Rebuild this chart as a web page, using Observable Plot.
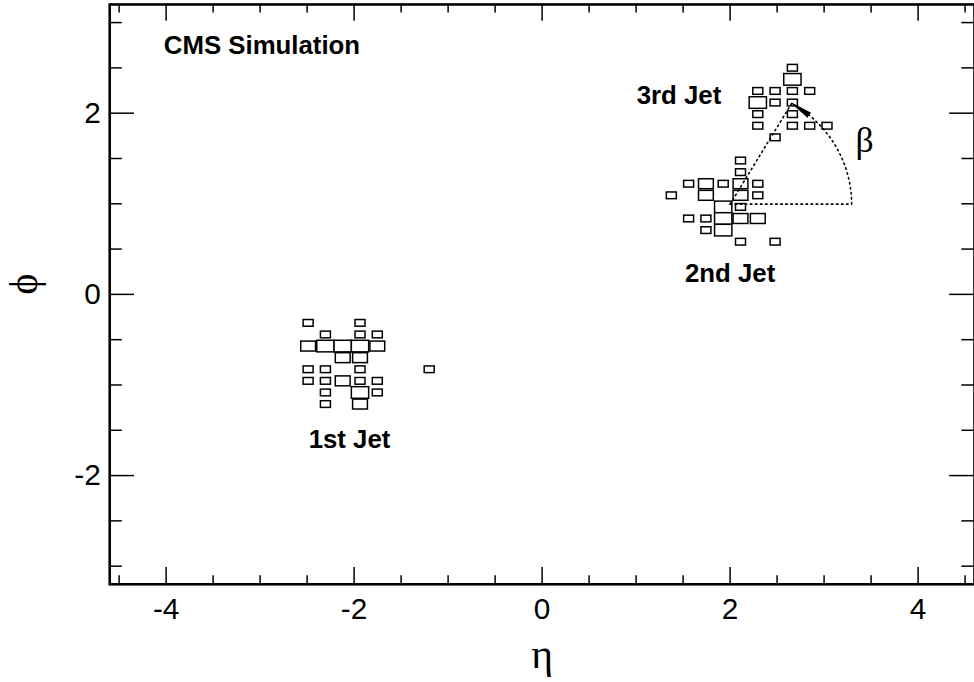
<!DOCTYPE html>
<html>
<head>
<meta charset="utf-8">
<script src="https://cdn.jsdelivr.net/npm/d3@7"></script>
<script src="https://cdn.jsdelivr.net/npm/@observablehq/plot@0.6"></script>
<style>
  html, body { margin: 0; padding: 0; overflow: hidden; background: #fff; }
  #chart svg { display: block; }
</style>
</head>
<body>
<div id="chart"></div>
<script>
// ---- Calorimeter cells (eta, phi bin centres) and cell content (arb. units) ----
const cellEta = [
  // 1st jet
  -2.484, -1.932,
  -2.300, -1.932, -1.748,
  -2.484, -2.300, -2.116, -1.932, -1.748,
  -2.116, -1.932,
  -2.484, -2.300, -1.932, -1.196,
  -2.484, -2.300, -2.116, -1.932, -1.748,
  -2.300, -1.932, -1.748,
  -2.300, -1.932,
  // 2nd jet
  2.116,
  2.116,
  1.564, 1.748, 1.932, 2.116, 2.300,
  1.380, 1.748, 2.116, 2.300,
  1.932, 2.116,
  1.564, 1.748, 1.932, 2.116, 2.300,
  1.748, 1.932,
  2.116, 2.484,
  // 3rd jet
  2.668,
  2.668,
  2.300, 2.484, 2.668, 2.852,
  2.300, 2.484, 2.668,
  2.300, 2.668,
  2.300, 2.668, 2.852, 3.036,
  2.484
];
const cellPhi = [
  -0.320, -0.320,
  -0.448, -0.448, -0.448,
  -0.576, -0.576, -0.576, -0.576, -0.576,
  -0.704, -0.704,
  -0.832, -0.832, -0.832, -0.832,
  -0.960, -0.960, -0.960, -0.960, -0.960,
  -1.088, -1.088, -1.088,
  -1.216, -1.216,
  1.472,
  1.344,
  1.216, 1.216, 1.216, 1.216, 1.216,
  1.088, 1.088, 1.088, 1.088,
  0.960, 0.960,
  0.832, 0.832, 0.832, 0.832, 0.832,
  0.704, 0.704,
  0.576, 0.576,
  2.496,
  2.368,
  2.240, 2.240, 2.240, 2.240,
  2.112, 2.112, 2.112,
  1.984, 1.984,
  1.856, 1.856, 1.856, 1.856,
  1.728
];
const cellE = [
  1, 1,
  1, 1, 1,
  2.2, 3, 3, 3, 2.2,
  2.2, 2.2,
  1, 1, 1, 1,
  1, 1, 2.2, 1, 1,
  1, 3, 1,
  1, 2.2,
  1,
  1,
  1, 2.2, 1, 2.2, 1,
  1, 2.2, 2.2, 1,
  3, 1,
  1, 1, 3, 2.2, 2.2,
  1, 3,
  1, 1,
  1,
  3,
  1, 1, 1, 1,
  3, 1, 1,
  1, 1,
  1, 1, 1, 1,
  1
];

// jet axes used for the opening-angle construction (2nd jet, 3rd jet)
const jetAxisEta = [2.0, 2.656];
const jetAxisPhi = [0.996, 2.11];

// text annotations
const labelText = ["1st Jet", "2nd Jet", "3rd Jet"];
const labelEta = [-2.049, 2.0, 1.456];
const labelPhi = [-1.603, 0.224, 2.188];
const cmsText = ["CMS Simulation"];
const cmsEta = [-4.025];
const cmsPhi = [2.746];
const betaText = ["β"];
const betaEta = [3.43];
const betaPhi = [1.70];

// axis ticks
const xMajor = [-4, -2, 0, 2, 4];
const yMajor = [-2, 0, 2];

// ---- layout ----
const W = 981, H = 682, mL = 110, mR = 0, mT = 4, mB = 94;
const xDom = [-4.6, 4.6], yDom = [-3.2, 3.2];
const binW = 0.184, binH = 0.128;
const kx = (xDom[1] - xDom[0]) / (W - mL - mR);   // data units per px (x)
const ky = (yDom[1] - yDom[0]) / (H - mT - mB);   // data units per px (y)

const cells = cellEta.map((eta, i) => ({eta, phi: cellPhi[i], e: cellE[i]}));
const eMax = d3.max(cellE);
const frac = d => Math.sqrt(d.e / eMax);

const xMinor = d3.range(-9, 10).map(k => k / 2).filter(v => !xMajor.includes(v));
const yMinor = d3.range(-6, 7).map(k => k / 2).filter(v => !yMajor.includes(v));

const xTickMaj = 17, xTickMin = 8.5, yTickMaj = 25, yTickMin = 12.7;

// opening-angle construction
const e0 = jetAxisEta[0], p0 = jetAxisPhi[0], e1 = jetAxisEta[1], p1 = jetAxisPhi[1];
const rad = Math.hypot(e1 - e0, p1 - p0);
const theta = Math.atan2(p1 - p0, e1 - e0);
const arcStop = theta - 10 * Math.PI / 180;
const arcPts = d3.range(0, 101).map(k => {
  const a = arcStop * k / 100;
  return [e0 + rad * Math.cos(a), p0 + rad * Math.sin(a)];
});
const base = arcPts[arcPts.length - 1];
const dxp = (e1 - base[0]) / kx, dyp = -(p1 - base[1]) / ky;
const spikeLen = Math.hypot(dxp, dyp);
const spikeRot = Math.atan2(dxp, -dyp) * 180 / Math.PI;

const dotted = {stroke: "black", strokeWidth: 1.6, strokeDasharray: "1.5,3.6"};

const tickRulesX = (vals, len, atBottom) => Plot.ruleX(vals, {
  x: d => d,
  y1: atBottom ? yDom[0] : yDom[1],
  y2: atBottom ? yDom[0] + len * ky : yDom[1] - len * ky,
  stroke: "black", strokeWidth: 1.5
});
const tickRulesY = (vals, len, atLeft) => Plot.ruleY(vals, {
  y: d => d,
  x1: atLeft ? xDom[0] : xDom[1],
  x2: atLeft ? xDom[0] + len * kx : xDom[1] - len * kx,
  stroke: "black", strokeWidth: 1.5
});

const serif = "'Liberation Serif', 'Times New Roman', serif";

const chart = Plot.plot({
  width: W, height: H,
  marginLeft: mL, marginRight: mR, marginTop: mT, marginBottom: mB,
  x: {domain: xDom},
  y: {domain: yDom},
  style: {fontFamily: "'Liberation Sans', Arial, Helvetica, sans-serif", color: "black", background: "white"},
  marks: [
    // cells
    Plot.rect(cells, {
      x1: d => d.eta - binW / 2 * frac(d), x2: d => d.eta + binW / 2 * frac(d),
      y1: d => d.phi - binH / 2 * frac(d), y2: d => d.phi + binH / 2 * frac(d),
      fill: "white", stroke: "black", strokeWidth: 1.5
    }),
    // angle construction
    Plot.line([[e0, p0], [e0 + rad, p0]], dotted),
    Plot.line([[e0, p0], [e1, p1]], dotted),
    Plot.line(arcPts, dotted),
    Plot.vector([base], {x: d => d[0], y: d => d[1], length: spikeLen, rotate: spikeRot,
      anchor: "start", shape: "spike", r: 2.6, fill: "black", stroke: "black", strokeWidth: 1}),
    // ticks
    tickRulesX(xMajor, xTickMaj, true), tickRulesX(xMinor, xTickMin, true),
    tickRulesX(xMajor, xTickMaj, false), tickRulesX(xMinor, xTickMin, false),
    tickRulesY(yMajor, yTickMaj, true), tickRulesY(yMinor, yTickMin, true),
    tickRulesY(yMajor, yTickMaj, false), tickRulesY(yMinor, yTickMin, false),
    Plot.frame({stroke: "black", strokeWidth: 2.6}),
    // tick labels
    Plot.axisX({anchor: "bottom", ticks: xMajor, tickSize: 0, tickPadding: 14, fontSize: 30,
      tickFormat: d => String(d), label: null}),
    Plot.axisY({anchor: "left", ticks: yMajor, tickSize: 0, tickPadding: 9, fontSize: 30,
      tickFormat: d => String(d), label: null}),
    // axis titles
    Plot.text(["η"], {frameAnchor: "bottom", dy: 84, fontSize: 42, fontFamily: serif}),
    Plot.text(["ϕ"], {frameAnchor: "left", dx: -86, rotate: -90, fontSize: 40, fontFamily: serif}),
    // annotations
    Plot.text(labelText, {x: (d, i) => labelEta[i], y: (d, i) => labelPhi[i], text: d => d,
      fontSize: 26, fontWeight: "bold", textAnchor: "middle"}),
    Plot.text(cmsText, {x: (d, i) => cmsEta[i], y: (d, i) => cmsPhi[i], text: d => d,
      fontSize: 26, fontWeight: "bold", textAnchor: "start"}),
    Plot.text(betaText, {x: (d, i) => betaEta[i], y: (d, i) => betaPhi[i], text: d => d,
      fontSize: 36, fontFamily: serif})
  ]
});
document.getElementById("chart").appendChild(chart);
</script>
</body>
</html>
